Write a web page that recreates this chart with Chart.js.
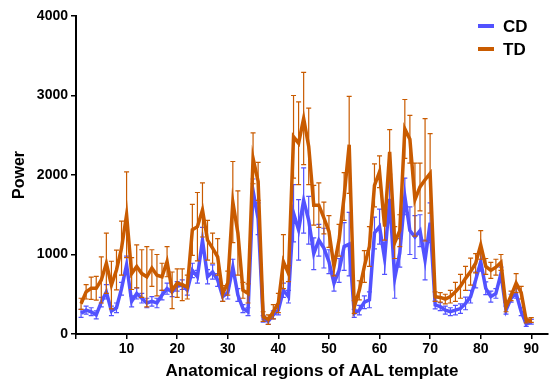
<!DOCTYPE html>
<html>
<head>
<meta charset="utf-8">
<script src="https://cdn.jsdelivr.net/npm/chart.js@4.4.1/dist/chart.umd.min.js"></script>
<style>
  html, body { margin: 0; padding: 0; background: #fff; }
  #wrap { width: 550px; height: 382px; }
</style>
</head>
<body>
<div id="wrap"><canvas id="chart" width="550" height="382"></canvas></div>
<script>
// power per AAL region (1..90)
const cdPower = [260, 300, 280, 240, 400, 530, 290, 330, 570, 870,
  410, 510, 450, 390, 410, 390, 490, 570, 530, 600,
  620, 550, 800, 720, 1180, 720, 780, 680, 470, 520,
  840, 490, 320, 280, 1800, 1450, 190, 160, 240, 300,
  550, 470, 1520, 1310, 1680, 1430, 1010, 1180, 1080, 910,
  640, 800, 1100, 1130, 260, 300, 400, 430, 1270, 1350,
  950, 1700, 700, 1020, 1730, 1300, 1220, 1300, 930, 1400,
  365, 345, 300, 280, 300, 320, 385, 470, 680, 910,
  575, 470, 510, 760, 300, 450, 510, 280, 125, 155];
const tdPower = [380, 530, 575, 575, 680, 890, 615, 805, 1080, 1500,
  760, 850, 760, 720, 830, 740, 720, 910, 550, 640,
  620, 590, 1310, 1350, 1560, 1180, 1080, 970, 510, 640,
  1660, 1270, 550, 510, 2210, 1920, 220, 180, 280, 390,
  910, 760, 2480, 2400, 2710, 2360, 1620, 1620, 1460, 1290,
  850, 1180, 1730, 2380, 340, 550, 850, 1100, 1870, 2040,
  1350, 2290, 1150, 1300, 2580, 2450, 1690, 1850, 1940, 2020,
  470, 460, 440, 470, 530, 600, 700, 785, 890, 1120,
  850, 800, 840, 900, 340, 480, 640, 520, 170, 175];
// error bar half-lengths
const cdErr = [50, 50, 50, 50, 60, 90, 60, 60, 80, 110,
  70, 70, 60, 60, 60, 60, 60, 70, 60, 60,
  60, 60, 90, 80, 160, 90, 90, 80, 60, 80,
  100, 80, 50, 50, 150, 200, 40, 40, 50, 60,
  90, 80, 360, 380, 410, 300, 200, 200, 250, 150,
  100, 150, 300, 400, 50, 60, 80, 100, 200, 220,
  200, 300, 250, 180, 230, 300, 270, 200, 250, 250,
  50, 50, 50, 50, 60, 60, 80, 80, 100, 120,
  80, 70, 60, 80, 50, 50, 60, 50, 30, 30];
const tdErr = [70, 90, 140, 150, 290, 380, 300, 250, 340, 540,
  200, 270, 300, 380, 230, 260, 170, 190, 230, 180,
  200, 150, 320, 430, 340, 250, 190, 230, 100, 150,
  510, 530, 100, 120, 320, 240, 60, 60, 90, 120,
  340, 100, 520, 520, 580, 480, 250, 280, 200, 200,
  120, 200, 300, 610, 80, 120, 200, 250, 270, 200,
  170, 280, 200, 200, 370, 300, 460, 300, 770, 500,
  60, 60, 60, 80, 120, 150, 150, 170, 120, 180,
  100, 100, 100, 100, 60, 60, 120, 80, 30, 30];
const yTicks = [0, 1000, 2000, 3000, 4000];

const blue = "#5252ff";
const orange = "#c95b00";
const font = "'Liberation Sans', Arial, sans-serif";

function toPoints(vals) {
  return vals.map((v, i) => ({ x: i + 1, y: v }));
}

// error bars drawn just before each dataset's line
const errorBars = {
  id: "errorBars",
  beforeDatasetDraw(chart, args) {
    const ds = chart.data.datasets[args.index];
    const errs = ds.errors;
    const xs = chart.scales.x, ys = chart.scales.y;
    const ctx = chart.ctx;
    ctx.save();
    ctx.strokeStyle = ds.borderColor;
    ctx.lineWidth = 1.2;
    ds.data.forEach((p, i) => {
      const x = xs.getPixelForValue(p.x);
      const top = ys.getPixelForValue(p.y + errs[i]);
      const bot = ys.getPixelForValue(p.y - errs[i]);
      ctx.beginPath();
      ctx.moveTo(x, top); ctx.lineTo(x, bot);
      ctx.moveTo(x - 2.5, top); ctx.lineTo(x + 2.5, top);
      ctx.moveTo(x - 2.5, bot); ctx.lineTo(x + 2.5, bot);
      ctx.stroke();
    });
    ctx.restore();
  },
};

const legendBox = {
  id: "legendBox",
  afterDraw(chart) {
    const ctx = chart.ctx;
    ctx.save();
    ctx.font = "bold 17px " + font;
    ctx.textBaseline = "middle";
    [["CD", blue, 26], ["TD", orange, 49]].forEach(([t, c, y]) => {
      ctx.strokeStyle = c;
      ctx.lineWidth = 4;
      ctx.beginPath();
      ctx.moveTo(478, y); ctx.lineTo(494, y);
      ctx.stroke();
      ctx.fillStyle = "#000";
      ctx.fillText(t, 503, y + 1);
    });
    ctx.restore();
  },
};

new Chart(document.getElementById("chart"), {
  type: "line",
  data: {
    datasets: [
      { label: "CD", data: toPoints(cdPower), errors: cdErr, borderColor: blue, order: 2 },
      { label: "TD", data: toPoints(tdPower), errors: tdErr, borderColor: orange, order: 1 },
    ],
  },
  options: {
    responsive: false,
    animation: false,
    layout: { padding: { top: 16, right: 2, left: 0, bottom: 0 } },
    elements: {
      line: { borderWidth: 3.5, tension: 0, fill: false },
      point: { radius: 0 },
    },
    plugins: { legend: { display: false }, tooltip: { enabled: false } },
    scales: {
      x: {
        type: "linear",
        min: 0,
        max: 93.3,
        border: { display: true, color: "#000", width: 2 },
        grid: { display: true, drawOnChartArea: false, drawTicks: true, tickLength: 5, color: "#000", lineWidth: 1.5 },
        ticks: {
          stepSize: 10,
          includeBounds: false,
          padding: 2,
          color: "#000",
          font: { family: font, size: 14, weight: "bold" },
          callback: (v) => (v === 0 ? "" : v),
        },
        title: {
          display: true,
          text: "Anatomical regions of AAL template",
          color: "#000",
          font: { family: font, size: 17, weight: "bold" },
          padding: { top: 1, bottom: 0 },
        },
        afterFit(scale) { scale.height = 48; },
      },
      y: {
        min: 0,
        max: 4000,
        border: { display: true, color: "#000", width: 2 },
        grid: { display: true, drawOnChartArea: false, drawTicks: true, tickLength: 5, color: "#000", lineWidth: 1.5 },
        afterBuildTicks(scale) { scale.ticks = yTicks.map((v) => ({ value: v })); },
        ticks: {
          padding: 3,
          color: "#000",
          font: { family: font, size: 14, weight: "bold" },
          callback: (v) => String(v),
        },
        title: {
          display: true,
          text: "Power",
          color: "#000",
          font: { family: font, size: 16, weight: "bold" },
          padding: { top: 10, bottom: 0 },
        },
        afterFit(scale) { scale.width = 76; },
      },
    },
  },
  plugins: [errorBars, legendBox],
});
</script>
</body>
</html>
